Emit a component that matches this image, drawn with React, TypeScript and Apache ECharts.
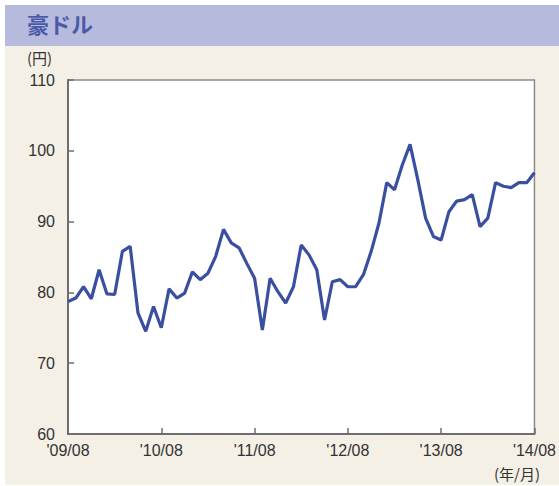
import React, { useEffect, useRef } from "react";
import * as echarts from "echarts";

const title = "豪ドル";
const yUnit = "(円)";
const xUnit = "(年/月)";
const yTicks = { min: 60, max: 110, interval: 10 };

const startYear = 2009;
const startMonth = 8;
const monthCount = 61;
const categories: string[] = [];
for (let i = 0; i < monthCount; i++) {
  const m = startMonth - 1 + i;
  const y = startYear + Math.floor(m / 12);
  const mo = (m % 12) + 1;
  categories.push("'" + String(y % 100).padStart(2, "0") + "/" + String(mo).padStart(2, "0"));
}

const audJpy = [
  78.7, 79.2, 80.8, 79.1, 83.2, 79.8, 79.7, 85.8, 86.5, 77.1,
  74.5, 78.0, 75.0, 80.5, 79.2, 79.9, 82.9, 81.8, 82.7, 85.1,
  88.9, 87.0, 86.3, 84.1, 82.0, 74.7, 82.0, 80.1, 78.5, 80.8,
  86.7, 85.3, 83.2, 76.1, 81.5, 81.8, 80.8, 80.8, 82.5, 85.8,
  89.8, 95.5, 94.5, 98.0, 100.9, 95.9, 90.5, 87.9, 87.4, 91.4,
  92.9, 93.1, 93.8, 89.3, 90.5, 95.5, 95.0, 94.8, 95.5, 95.5,
  96.9,
];

export default function App() {
  const ref = useRef<HTMLDivElement>(null);
  useEffect(() => {
    if (!ref.current) return;
    const chart = echarts.init(ref.current, null, { renderer: "svg" });
    const font = "'Liberation Sans Narrow', 'Liberation Sans', 'Noto Sans CJK JP', sans-serif";
    chart.setOption({
      animation: false,
      backgroundColor: "#ffffff",
      textStyle: { fontFamily: font },
      graphic: [
        { type: "rect", z: -10, shape: { x: 5, y: 5, width: 554, height: 480 }, style: { fill: "#f4f0e6" } },
        { type: "rect", z: -9, shape: { x: 5, y: 5, width: 554, height: 41 }, style: { fill: "#b6badd" } },
        {
          type: "text", left: 27, top: 12,
          style: { text: title, fill: "#4a5aa8", font: "bold 22px 'Noto Sans CJK JP', sans-serif" },
        },
        {
          type: "text", left: 27, top: 50,
          style: { text: yUnit, fill: "#333333", font: "15px 'Noto Sans CJK JP', sans-serif" },
        },
        {
          type: "text", left: 494, top: 466,
          style: { text: xUnit, fill: "#333333", font: "15px 'Noto Sans CJK JP', sans-serif" },
        },
      ],
      grid: {
        left: 68, right: 22, top: 80, bottom: 52,
        show: true, backgroundColor: "#ffffff", borderColor: "#8a8a8a", borderWidth: 1.5,
      },
      xAxis: {
        type: "category",
        data: categories,
        boundaryGap: false,
        axisLine: { lineStyle: { color: "#6e6e6e", width: 2 } },
        axisTick: { inside: true, interval: 11, length: 6, lineStyle: { color: "#6e6e6e", width: 1.5 } },
        axisLabel: { interval: 11, color: "#333333", fontSize: 16, margin: 8, fontFamily: font },
        splitLine: { show: false },
      },
      yAxis: {
        type: "value",
        min: yTicks.min, max: yTicks.max, interval: yTicks.interval,
        axisLine: { show: true, lineStyle: { color: "#6e6e6e", width: 2 } },
        axisTick: { show: true, inside: true, length: 6, lineStyle: { color: "#6e6e6e", width: 1.5 } },
        axisLabel: { color: "#333333", fontSize: 16, margin: 13, fontFamily: font },
        splitLine: { show: false },
      },
      series: [
        {
          type: "line",
          data: audJpy,
          showSymbol: false,
          lineStyle: { color: "#3a4f9f", width: 3.2 },
          itemStyle: { color: "#3a4f9f" },
        },
      ],
    });
    return () => chart.dispose();
  }, []);
  return (
    <div
      ref={ref}
      style={{ position: "fixed", left: 0, top: 0, width: 559, height: 486 }}
    />
  );
}
